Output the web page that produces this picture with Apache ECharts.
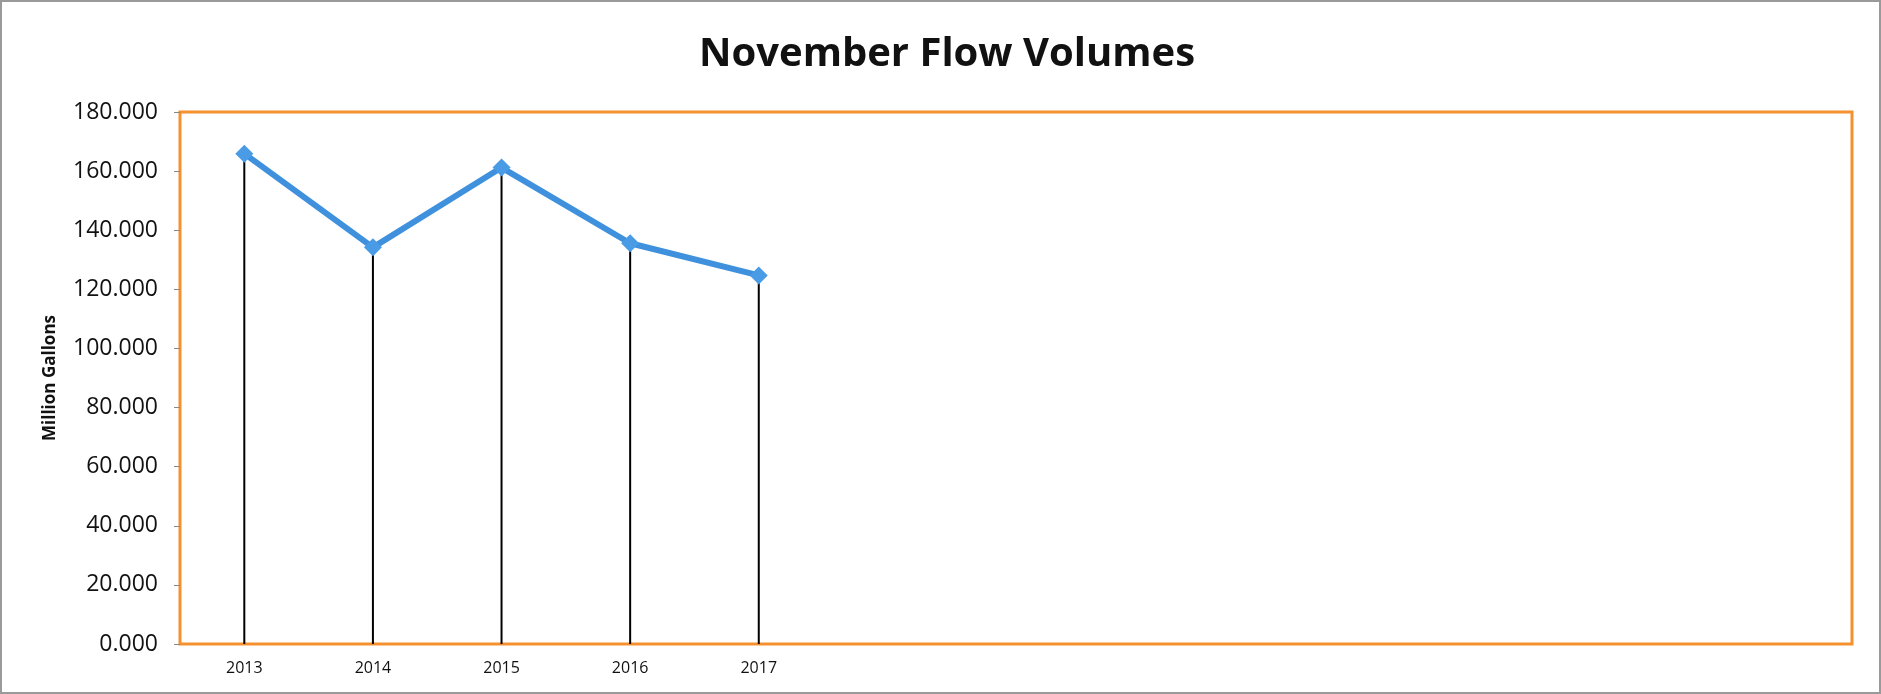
<!DOCTYPE html>
<html>
<head>
<meta charset="utf-8">
<script src="https://cdn.jsdelivr.net/npm/echarts@6/dist/echarts.min.js"></script>
<style>
html,body{margin:0;padding:0;background:#fff;}
#frame{position:absolute;left:0;top:0;width:1877px;height:690px;border:2px solid #9a9a9a;}
#chart{width:1877px;height:690px;}
</style>
</head>
<body>
<div id="frame"><div id="chart"></div></div>
<script>
// Data
const categories = ['2013','2014','2015','2016','2017','','','','','','','',''];
const flowVolumes = [165.9, 134.2, 161.2, 135.6, 124.7];
const yTicks = {min: 0, max: 180, interval: 20};
const chartTitle = 'November Flow Volumes';
const yAxisName = 'Million Gallons';

const chart = echarts.init(document.getElementById('chart'), null, {renderer: 'canvas'});
chart.setOption({
  animation: false,
  backgroundColor: '#ffffff',
  title: {
    text: chartTitle,
    left: 940, top: 28, textAlign: 'center',
    textStyle: {fontFamily: 'Open Sans', fontWeight: 'bold', fontSize: 40, color: '#111'}
  },
  grid: {
    left: 178, right: 27, top: 110, bottom: 48,
    show: true, borderColor: '#F5922F', borderWidth: 3, backgroundColor: 'transparent'
  },
  xAxis: {
    type: 'category',
    data: categories,
    boundaryGap: true,
    axisLine: {show: false},
    axisTick: {show: false},
    axisLabel: {margin: 16, fontFamily: 'Open Sans', fontSize: 16, color: '#111', interval: 0}
  },
  yAxis: {
    type: 'value',
    min: yTicks.min, max: yTicks.max, interval: yTicks.interval,
    name: yAxisName,
    nameLocation: 'middle',
    nameGap: 121,
    nameTextStyle: {fontFamily: 'Open Sans', fontWeight: 'bold', fontSize: 17, color: '#111'},
    axisLine: {show: false},
    axisTick: {show: true, length: 6, lineStyle: {color: '#888', width: 1}},
    splitLine: {show: false},
    axisLabel: {
      margin: 22, fontFamily: 'Open Sans', fontSize: 23, color: '#111',
      formatter: v => v.toFixed(3)
    }
  },
  series: [
    {
      type: 'bar',
      data: flowVolumes,
      barWidth: 2,
      itemStyle: {color: '#000'},
      z: 1,
      silent: true
    },
    {
      type: 'line',
      data: flowVolumes,
      symbol: 'diamond',
      symbolSize: 18,
      lineStyle: {color: '#3F91DD', width: 6},
      itemStyle: {color: '#4A9BE6'},
      z: 3
    }
  ]
});
</script>
</body>
</html>
